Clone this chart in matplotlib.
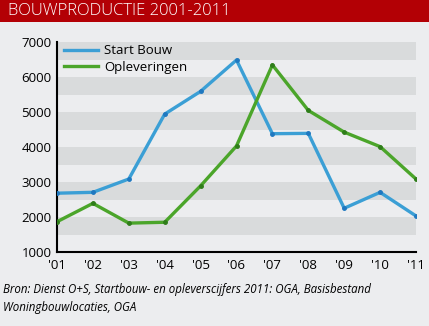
import matplotlib.pyplot as plt
from matplotlib.patches import Rectangle

years = ["'01", "'02", "'03", "'04", "'05", "'06", "'07", "'08", "'09", "'10", "'11"]
start_bouw = [2680, 2705, 3085, 4940, 5590, 6485, 4380, 4390, 2250, 2705, 2030]
opleveringen = [1865, 2390, 1825, 1850, 2890, 4030, 6345, 5045, 4425, 4010, 3085]
y_ticks = [1000, 2000, 3000, 4000, 5000, 6000, 7000]

bg = "#ecedef"
band = "#d9dbdc"
blue = "#3b9fd5"
green = "#4ba52a"

plt.rcParams['font.family'] = ['Open Sans', 'DejaVu Sans']

fig = plt.figure(figsize=(4.29, 3.26), dpi=100, facecolor=bg)

# red title bar
fig.patches.append(Rectangle((0, 1 - 22 / 326), 1, 22 / 326, transform=fig.transFigure,
                             facecolor="#b30005", edgecolor="none"))
fig.text(8 / 429, 1 - 11 / 326, "BOUWPRODUCTIE 2001-2011", color="white",
         fontsize=12, fontweight="light", va="center", ha="left")

ax = fig.add_axes([57 / 429, 1 - 252 / 326, (416 - 57) / 429, (252 - 42) / 326])
ax.set_facecolor(bg)

# alternating grey bands
for lo in range(1500, 7000, 1000):
    ax.axhspan(lo, lo + 500, color=band, lw=0, zorder=0)

x = list(range(len(years)))
ax.plot(x, start_bouw, color=blue, lw=2.4, label="Start Bouw", zorder=3,
        solid_joinstyle="round")
ax.plot(x, opleveringen, color=green, lw=2.4, label="Opleveringen", zorder=3,
        solid_joinstyle="round")
# small darker dots on the data points
ax.plot(x, start_bouw, ls="none", marker="o", ms=2.5, mfc="#1f78c0", mec="#1f78c0", zorder=4)
ax.plot(x, opleveringen, ls="none", marker="o", ms=2.5, mfc="#2f7d1a", mec="#2f7d1a", zorder=4)

ax.set_xlim(0, len(years) - 1)
ax.set_ylim(1000, 7000)
ax.set_xticks(x)
ax.set_xticklabels(years)
ax.set_yticks(y_ticks)
ax.tick_params(length=0, labelsize=9.5, pad=4)
ax.tick_params(axis="x", pad=5)

for s in ["top", "right"]:
    ax.spines[s].set_visible(False)
for s in ["left", "bottom"]:
    ax.spines[s].set_color("black")
    ax.spines[s].set_linewidth(1.5)

ax.legend(loc="upper left", frameon=False, fontsize=9.5, handlelength=2.6,
          handletextpad=0.5, borderaxespad=0.1, labelspacing=0.25,
          bbox_to_anchor=(0.0, 1.02))

fig.text(3 / 429, 1 - 290 / 326, "Bron: Dienst O+S, Startbouw- en opleverscijfers 2011: OGA, Basisbestand",
         fontsize=8.3, style="italic", va="center", ha="left")
fig.text(3 / 429, 1 - 307 / 326, "Woningbouwlocaties, OGA",
         fontsize=8.3, style="italic", va="center", ha="left")

fig.savefig("out.png", dpi=100, facecolor=bg)
